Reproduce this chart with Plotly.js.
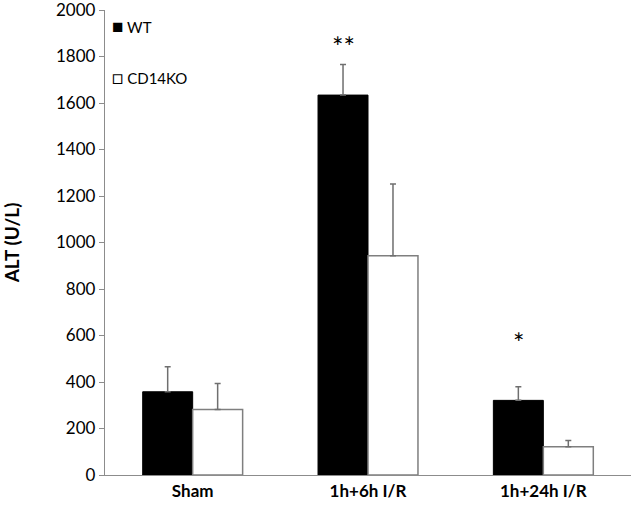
<!DOCTYPE html>
<html>
<head>
<meta charset="utf-8">
<script src="https://cdn.plot.ly/plotly-3.0.1.min.js"></script>
<style>
  html, body { margin: 0; padding: 0; background: #fff; }
  #chart { width: 635px; height: 512px; }
</style>
</head>
<body>
<div id="chart"></div>
<script>
const groups = ["Sham", "1h+6h I/R", "1h+24h I/R"];
const wtValues = [358, 1634, 321];
const wtErrors = [108, 132, 59];
const koValues = [282, 943, 122];
const koErrors = [112, 309, 26];
const yTicks = [0, 200, 400, 600, 800, 1000, 1200, 1400, 1600, 1800, 2000];
const marks = [
  { group: "1h+6h I/R", label: "**", y: 1845 },
  { group: "1h+24h I/R", label: "*", y: 570 },
];

const font = "Lato, 'Liberation Sans', sans-serif";
const errColor = "#6f6f6f";

const traces = [
  {
    type: "bar",
    name: "WT",
    x: groups,
    y: wtValues,
    marker: { color: "#000000", line: { color: "#000000", width: 1 } },
    error_y: {
      type: "data",
      symmetric: false,
      array: wtErrors,
      arrayminus: wtValues.map(() => 0),
      color: errColor,
      thickness: 1.5,
      width: 3,
    },
  },
  {
    type: "bar",
    name: "CD14KO",
    x: groups,
    y: koValues,
    marker: { color: "#ffffff", line: { color: "#7f7f7f", width: 1.5 } },
    error_y: {
      type: "data",
      symmetric: false,
      array: koErrors,
      arrayminus: koValues.map(() => 0),
      color: errColor,
      thickness: 1.5,
      width: 3,
    },
  },
];

const annotations = marks.map((m) => ({
  x: m.group,
  xshift: -25,
  y: m.y,
  text: m.label,
  showarrow: false,
  font: { family: font, size: 27, color: "#000" },
}));

annotations.push(
  {
    xref: "paper", yref: "paper", x: 0.01, y: 0.966, yanchor: "middle",
    xanchor: "left", text: "<span style='font-size:19px'>■</span> WT", showarrow: false,
    font: { family: font, size: 15, color: "#000" },
  },
  {
    xref: "paper", yref: "paper", x: 0.01, y: 0.858, yanchor: "middle",
    xanchor: "left", text: "<span style='font-size:19px'>□</span> CD14KO", showarrow: false,
    font: { family: font, size: 15, color: "#000" },
  }
);

const layout = {
  width: 635,
  height: 512,
  margin: { l: 105, r: 4, t: 10, b: 37 },
  paper_bgcolor: "#ffffff",
  plot_bgcolor: "#ffffff",
  showlegend: false,
  barmode: "group",
  bargap: 0.43,
  bargroupgap: 0,
  font: { family: font, color: "#000" },
  xaxis: {
    type: "category",
    range: [-0.5, 2.5],
    showline: true,
    linecolor: "#8c8c8c",
    linewidth: 1.2,
    ticks: "",
    tickfont: { family: font, size: 17, weight: "bold" },
    showgrid: false,
    zeroline: false,
  },
  yaxis: {
    range: [0, 2000],
    tickvals: yTicks,
    ticktext: yTicks.map(String),
    showline: true,
    linecolor: "#8c8c8c",
    linewidth: 1.2,
    ticks: "outside",
    ticklen: 5,
    tickcolor: "#8c8c8c",
    tickfont: { family: font, size: 17 },
    ticklabeloverflow: "allow",
    showgrid: false,
    zeroline: false,
    title: {
      text: "ALT (U/L)",
      font: { family: font, size: 19, weight: "bold" },
      standoff: 34,
    },
  },
  annotations: annotations,
};

Plotly.newPlot("chart", traces, layout, { displayModeBar: false, staticPlot: true });
</script>
</body>
</html>
